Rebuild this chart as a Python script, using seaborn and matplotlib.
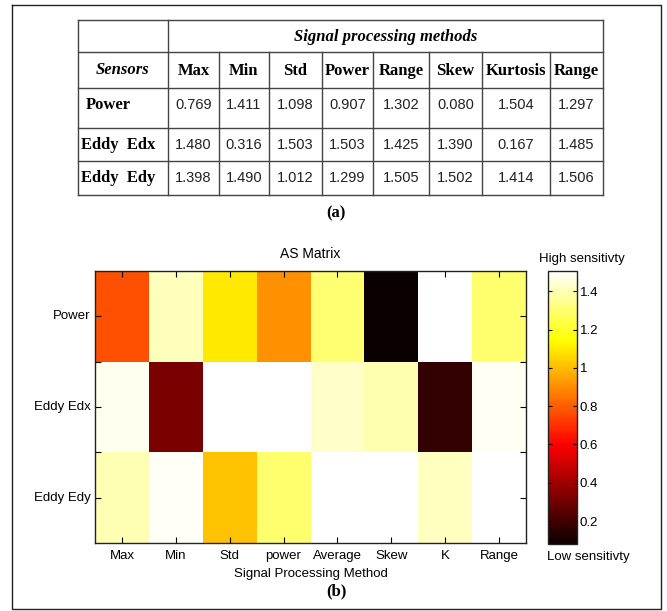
import matplotlib
matplotlib.use("Agg")
from matplotlib import pyplot as plt
import seaborn as sns
import numpy as np
import pandas as pd

# values of table (a) / AS matrix (b)
sensors = ["Power", "Eddy  Edx", "Eddy  Edy"]
heat_rows = ["Power", "Eddy Edx", "Eddy Edy"]
table_methods = ["Max", "Min", "Std", "Power", "Range", "Skew", "Kurtosis", "Range"]
heat_methods = ["Max", "Min", "Std", "power", "Average", "Skew", "K", "Range"]
power_vals = [0.769, 1.411, 1.098, 0.907, 1.302, 0.080, 1.504, 1.297]
edx_vals = [1.480, 0.316, 1.503, 1.503, 1.425, 1.390, 0.167, 1.485]
edy_vals = [1.398, 1.490, 1.012, 1.299, 1.505, 1.502, 1.414, 1.506]
cbar_ticks = [0.2, 0.4, 0.6, 0.8, 1.0, 1.2, 1.4]
cbar_labels = ["0.2", "0.4", "0.6", "0.8", "1", "1.2", "1.4"]

W, H = 667, 611
SANS = ["Liberation Sans", "DejaVu Sans"]
SERIF = ["Liberation Serif", "DejaVu Serif"]
plt.rcParams["font.family"] = SANS


def box(l, t, r, b):
    # pixel box -> figure fraction
    return [l / W, 1 - b / H, (r - l) / W, (b - t) / H]


fig = plt.figure(figsize=(W / 100, H / 100), dpi=100)

# overlay axes in pixel coords for frame + table
ov = fig.add_axes([0, 0, 1, 1], zorder=0)
ov.set_xlim(0, W)
ov.set_ylim(H, 0)
ov.axis("off")
ov.patch.set_alpha(0)

# outer frame
ov.plot([12, 661, 661, 12, 12], [5, 5, 609, 609, 5], color="#222222", lw=1.0)

# ---- table (a) ----
col_x = [78, 168, 219, 269, 322, 373, 429, 482, 550, 603]
row_y = [20, 52, 88, 128, 161, 195]
lc = "#444444"
for y in row_y:
    ov.plot([col_x[0], col_x[-1]], [y, y], color=lc, lw=1.0)
for i, x in enumerate(col_x):
    top = row_y[0] if i in (0, 1, len(col_x) - 1) else row_y[1]
    ov.plot([x, x], [top, row_y[-1]], color=lc, lw=1.0)

ov.text((col_x[1] + col_x[-1]) / 2, 37, "Signal processing methods", family=SERIF,
        fontsize=12, weight="bold", style="italic", ha="center", va="center")
ov.text((col_x[0] + col_x[1]) / 2, 70, "Sensors", family=SERIF,
        fontsize=12, weight="bold", style="italic", ha="center", va="center")
for j, m in enumerate(table_methods):
    ov.text((col_x[j + 1] + col_x[j + 2]) / 2, 71, m, family=SERIF,
            fontsize=12, weight="bold", ha="center", va="center")

text_y = [105, 145, 178]
sensor_x = [86, 81, 81]
for i, (name, vals) in enumerate(zip(sensors, [power_vals, edx_vals, edy_vals])):
    ov.text(sensor_x[i], text_y[i], name, family=SERIF, fontsize=12,
            weight="bold", ha="left", va="center")
    for j, v in enumerate(vals):
        ov.text((col_x[j + 1] + col_x[j + 2]) / 2, text_y[i], f"{v:.3f}",
                fontsize=10.5, ha="center", va="center", color="#222222")

ov.text(336, 213, "(a)", family=SERIF, fontsize=12, weight="bold",
        ha="center", va="center")
ov.text(336, 591, "(b)", family=SERIF, fontsize=12, weight="bold",
        ha="center", va="center")

# ---- heatmap (b) ----
df = pd.DataFrame([power_vals, edx_vals, edy_vals], index=heat_rows, columns=heat_methods)
ax = fig.add_axes(box(95, 271, 526, 543), zorder=2)
cax = fig.add_axes(box(548, 271, 577, 544), zorder=2)
sns.heatmap(df, cmap="hot", vmin=0.08, vmax=1.506, ax=ax, cbar_ax=cax)

for s in ax.spines.values():
    s.set_visible(True)
    s.set_linewidth(1.0)
    s.set_color("#222222")
ax.set_yticklabels(heat_rows, rotation=0, fontsize=9.5)
ax.set_xticklabels(heat_methods, rotation=0, fontsize=9.5)
ax.set_yticks([1, 2], minor=True)
ax.tick_params(which="both", direction="in", top=True, right=True, left=True,
               bottom=True, length=4, width=0.8, pad=3)
ax.tick_params(axis="x", which="major", pad=5)
ax.tick_params(axis="x", which="minor", top=False, bottom=False)
ax.set_title("AS Matrix", fontsize=10, pad=9)
ax.set_xlabel("Signal Processing Method", fontsize=9.5, labelpad=4)
ax.set_ylabel("")

cb = ax.collections[0].colorbar
cb.outline.set_linewidth(1.0)
cb.outline.set_edgecolor("#222222")
cb.set_ticks(cbar_ticks)
cb.set_ticklabels(cbar_labels)
cax.tick_params(direction="in", left=True, right=True, length=3, width=0.8,
                labelsize=9.5, pad=2)

ov.text(582, 259, "High sensitivty", fontsize=9.5, ha="center", va="center")
ov.text(588, 557, "Low sensitivty", fontsize=9.5, ha="center", va="center")

fig.savefig("out.png", dpi=100)
